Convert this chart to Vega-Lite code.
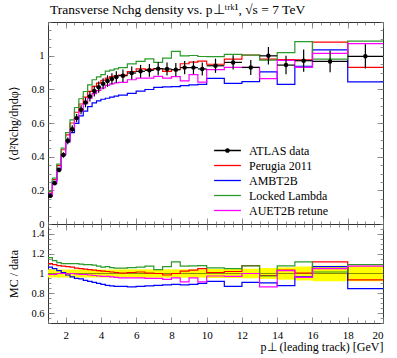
{
  "$schema": "https://vega.github.io/schema/vega-lite/v6.json",
  "padding": {"left": 7, "top": 2, "right": 5, "bottom": 2},
  "background": "white",
  "spacing": 0,
  "bounds": "flush",
  "config": {
    "font": "Liberation Serif",
    "view": {"stroke": "#333333", "strokeWidth": 1},
    "axis": {"domain": false, "grid": false, "tickColor": "#777777", "tickWidth": 0.8,
      "labelFont": "Liberation Serif", "labelFontSize": 10.5, "labelColor": "#000000",
      "titleFont": "Liberation Serif", "titleFontSize": 12, "titleFontWeight": "normal", "titleColor": "#000000"}
  },
  "resolve": {"scale": {"color": "independent"}},
  "datasets": {
    "bins": [
      {"lo":1,"hi":1.25,"pt":1.125,"y":0.167,"ylo":0.160,"yhi":0.174,"Perugia 2011":0.184,"AMBT2B":0.178,"Locked Lambda":0.194,"AUET2B retune":0.165},
      {"lo":1.25,"hi":1.5,"pt":1.375,"y":0.242,"ylo":0.232,"yhi":0.252,"Perugia 2011":0.264,"AMBT2B":0.254,"Locked Lambda":0.273,"AUET2B retune":0.240},
      {"lo":1.5,"hi":1.75,"pt":1.625,"y":0.321,"ylo":0.308,"yhi":0.334,"Perugia 2011":0.347,"AMBT2B":0.331,"Locked Lambda":0.356,"AUET2B retune":0.321},
      {"lo":1.75,"hi":2,"pt":1.875,"y":0.410,"ylo":0.394,"yhi":0.426,"Perugia 2011":0.441,"AMBT2B":0.414,"Locked Lambda":0.451,"AUET2B retune":0.410},
      {"lo":2,"hi":2.25,"pt":2.125,"y":0.494,"ylo":0.474,"yhi":0.514,"Perugia 2011":0.529,"AMBT2B":0.487,"Locked Lambda":0.543,"AUET2B retune":0.492},
      {"lo":2.25,"hi":2.5,"pt":2.375,"y":0.563,"ylo":0.540,"yhi":0.586,"Perugia 2011":0.600,"AMBT2B":0.543,"Locked Lambda":0.619,"AUET2B retune":0.563},
      {"lo":2.5,"hi":2.75,"pt":2.625,"y":0.629,"ylo":0.604,"yhi":0.654,"Perugia 2011":0.664,"AMBT2B":0.598,"Locked Lambda":0.692,"AUET2B retune":0.626},
      {"lo":2.75,"hi":3,"pt":2.875,"y":0.679,"ylo":0.652,"yhi":0.706,"Perugia 2011":0.713,"AMBT2B":0.642,"Locked Lambda":0.744,"AUET2B retune":0.672},
      {"lo":3,"hi":3.25,"pt":3.125,"y":0.722,"ylo":0.693,"yhi":0.751,"Perugia 2011":0.754,"AMBT2B":0.671,"Locked Lambda":0.787,"AUET2B retune":0.715},
      {"lo":3.25,"hi":3.5,"pt":3.375,"y":0.758,"ylo":0.728,"yhi":0.788,"Perugia 2011":0.788,"AMBT2B":0.697,"Locked Lambda":0.826,"AUET2B retune":0.747},
      {"lo":3.5,"hi":3.75,"pt":3.625,"y":0.790,"ylo":0.758,"yhi":0.822,"Perugia 2011":0.818,"AMBT2B":0.719,"Locked Lambda":0.857,"AUET2B retune":0.774},
      {"lo":3.75,"hi":4,"pt":3.875,"y":0.813,"ylo":0.780,"yhi":0.846,"Perugia 2011":0.837,"AMBT2B":0.732,"Locked Lambda":0.874,"AUET2B retune":0.793},
      {"lo":4,"hi":4.25,"pt":4.125,"y":0.833,"ylo":0.800,"yhi":0.866,"Perugia 2011":0.854,"AMBT2B":0.741,"Locked Lambda":0.887,"AUET2B retune":0.808},
      {"lo":4.25,"hi":4.5,"pt":4.375,"y":0.849,"ylo":0.815,"yhi":0.883,"Perugia 2011":0.866,"AMBT2B":0.747,"Locked Lambda":0.908,"AUET2B retune":0.824},
      {"lo":4.5,"hi":4.75,"pt":4.625,"y":0.862,"ylo":0.828,"yhi":0.896,"Perugia 2011":0.875,"AMBT2B":0.754,"Locked Lambda":0.914,"AUET2B retune":0.832},
      {"lo":4.75,"hi":5,"pt":4.875,"y":0.873,"ylo":0.838,"yhi":0.908,"Perugia 2011":0.882,"AMBT2B":0.760,"Locked Lambda":0.921,"AUET2B retune":0.838},
      {"lo":5,"hi":5.5,"pt":5.25,"y":0.881,"ylo":0.844,"yhi":0.918,"Perugia 2011":0.885,"AMBT2B":0.766,"Locked Lambda":0.929,"AUET2B retune":0.841},
      {"lo":5.5,"hi":6,"pt":5.75,"y":0.897,"ylo":0.859,"yhi":0.935,"Perugia 2011":0.906,"AMBT2B":0.776,"Locked Lambda":0.951,"AUET2B retune":0.857},
      {"lo":6,"hi":6.5,"pt":6.25,"y":0.907,"ylo":0.869,"yhi":0.945,"Perugia 2011":0.921,"AMBT2B":0.789,"Locked Lambda":0.966,"AUET2B retune":0.866},
      {"lo":6.5,"hi":7,"pt":6.75,"y":0.913,"ylo":0.875,"yhi":0.951,"Perugia 2011":0.918,"AMBT2B":0.799,"Locked Lambda":0.981,"AUET2B retune":0.867},
      {"lo":7,"hi":7.5,"pt":7.25,"y":0.923,"ylo":0.884,"yhi":0.962,"Perugia 2011":0.923,"AMBT2B":0.812,"Locked Lambda":0.960,"AUET2B retune":0.877},
      {"lo":7.5,"hi":8,"pt":7.75,"y":0.921,"ylo":0.882,"yhi":0.960,"Perugia 2011":0.907,"AMBT2B":0.815,"Locked Lambda":0.985,"AUET2B retune":0.866},
      {"lo":8,"hi":8.5,"pt":8.25,"y":0.917,"ylo":0.878,"yhi":0.956,"Perugia 2011":0.917,"AMBT2B":0.816,"Locked Lambda":1.025,"AUET2B retune":0.876},
      {"lo":8.5,"hi":9,"pt":8.75,"y":0.929,"ylo":0.890,"yhi":0.968,"Perugia 2011":0.952,"AMBT2B":0.822,"Locked Lambda":0.999,"AUET2B retune":0.850},
      {"lo":9,"hi":9.5,"pt":9.25,"y":0.929,"ylo":0.890,"yhi":0.968,"Perugia 2011":0.962,"AMBT2B":0.827,"Locked Lambda":1.001,"AUET2B retune":0.887},
      {"lo":9.5,"hi":10,"pt":9.75,"y":0.921,"ylo":0.882,"yhi":0.960,"Perugia 2011":0.967,"AMBT2B":0.829,"Locked Lambda":0.995,"AUET2B retune":0.843},
      {"lo":10,"hi":11,"pt":10.5,"y":0.940,"ylo":0.898,"yhi":0.982,"Perugia 2011":0.949,"AMBT2B":0.865,"Locked Lambda":0.994,"AUET2B retune":0.917},
      {"lo":11,"hi":12,"pt":11.5,"y":0.960,"ylo":0.918,"yhi":1.002,"Perugia 2011":0.979,"AMBT2B":0.835,"Locked Lambda":1.008,"AUET2B retune":0.931},
      {"lo":12,"hi":13,"pt":12.5,"y":0.930,"ylo":0.885,"yhi":0.975,"Perugia 2011":1.004,"AMBT2B":0.846,"Locked Lambda":1.003,"AUET2B retune":0.930},
      {"lo":13,"hi":14,"pt":13.5,"y":0.999,"ylo":0.947,"yhi":1.051,"Perugia 2011":0.979,"AMBT2B":0.904,"Locked Lambda":0.974,"AUET2B retune":0.864},
      {"lo":14,"hi":15,"pt":14.5,"y":0.944,"ylo":0.889,"yhi":0.999,"Perugia 2011":0.976,"AMBT2B":0.829,"Locked Lambda":1.018,"AUET2B retune":0.972},
      {"lo":15,"hi":16,"pt":15.5,"y":0.970,"ylo":0.904,"yhi":1.036,"Perugia 2011":0.975,"AMBT2B":0.937,"Locked Lambda":1.084,"AUET2B retune":0.931},
      {"lo":16,"hi":18,"pt":17,"y":0.966,"ylo":0.901,"yhi":1.031,"Perugia 2011":1.080,"AMBT2B":1.034,"Locked Lambda":0.980,"AUET2B retune":1.014},
      {"lo":18,"hi":20,"pt":19,"y":0.996,"ylo":0.924,"yhi":1.068,"Perugia 2011":0.931,"AMBT2B":0.844,"Locked Lambda":1.086,"AUET2B retune":1.071}
    ],
    "ratio": [
      {"lo":1,"hi":1.25,"rlo":0.96,"rhi":1.04,"Perugia 2011":1.10,"AMBT2B":1.065,"Locked Lambda":1.16,"AUET2B retune":0.99},
      {"lo":1.25,"hi":1.5,"rlo":0.96,"rhi":1.04,"Perugia 2011":1.09,"AMBT2B":1.05,"Locked Lambda":1.13,"AUET2B retune":0.99},
      {"lo":1.5,"hi":1.75,"rlo":0.96,"rhi":1.04,"Perugia 2011":1.08,"AMBT2B":1.03,"Locked Lambda":1.11,"AUET2B retune":1.0},
      {"lo":1.75,"hi":2,"rlo":0.96,"rhi":1.04,"Perugia 2011":1.075,"AMBT2B":1.01,"Locked Lambda":1.10,"AUET2B retune":1.0},
      {"lo":2,"hi":2.25,"rlo":0.96,"rhi":1.04,"Perugia 2011":1.07,"AMBT2B":0.985,"Locked Lambda":1.10,"AUET2B retune":0.995},
      {"lo":2.25,"hi":2.5,"rlo":0.96,"rhi":1.04,"Perugia 2011":1.065,"AMBT2B":0.965,"Locked Lambda":1.10,"AUET2B retune":1.0},
      {"lo":2.5,"hi":2.75,"rlo":0.96,"rhi":1.04,"Perugia 2011":1.055,"AMBT2B":0.95,"Locked Lambda":1.10,"AUET2B retune":0.995},
      {"lo":2.75,"hi":3,"rlo":0.96,"rhi":1.04,"Perugia 2011":1.05,"AMBT2B":0.945,"Locked Lambda":1.095,"AUET2B retune":0.99},
      {"lo":3,"hi":3.25,"rlo":0.96,"rhi":1.04,"Perugia 2011":1.045,"AMBT2B":0.93,"Locked Lambda":1.09,"AUET2B retune":0.99},
      {"lo":3.25,"hi":3.5,"rlo":0.96,"rhi":1.04,"Perugia 2011":1.04,"AMBT2B":0.92,"Locked Lambda":1.09,"AUET2B retune":0.985},
      {"lo":3.5,"hi":3.75,"rlo":0.96,"rhi":1.04,"Perugia 2011":1.035,"AMBT2B":0.91,"Locked Lambda":1.085,"AUET2B retune":0.98},
      {"lo":3.75,"hi":4,"rlo":0.96,"rhi":1.04,"Perugia 2011":1.03,"AMBT2B":0.90,"Locked Lambda":1.075,"AUET2B retune":0.975},
      {"lo":4,"hi":4.25,"rlo":0.96,"rhi":1.04,"Perugia 2011":1.025,"AMBT2B":0.89,"Locked Lambda":1.065,"AUET2B retune":0.97},
      {"lo":4.25,"hi":4.5,"rlo":0.96,"rhi":1.04,"Perugia 2011":1.02,"AMBT2B":0.88,"Locked Lambda":1.07,"AUET2B retune":0.97},
      {"lo":4.5,"hi":4.75,"rlo":0.96,"rhi":1.04,"Perugia 2011":1.015,"AMBT2B":0.875,"Locked Lambda":1.06,"AUET2B retune":0.965},
      {"lo":4.75,"hi":5,"rlo":0.96,"rhi":1.04,"Perugia 2011":1.01,"AMBT2B":0.87,"Locked Lambda":1.055,"AUET2B retune":0.96},
      {"lo":5,"hi":5.5,"rlo":0.958,"rhi":1.042,"Perugia 2011":1.005,"AMBT2B":0.87,"Locked Lambda":1.055,"AUET2B retune":0.955},
      {"lo":5.5,"hi":6,"rlo":0.958,"rhi":1.042,"Perugia 2011":1.01,"AMBT2B":0.865,"Locked Lambda":1.06,"AUET2B retune":0.955},
      {"lo":6,"hi":6.5,"rlo":0.958,"rhi":1.042,"Perugia 2011":1.015,"AMBT2B":0.87,"Locked Lambda":1.065,"AUET2B retune":0.955},
      {"lo":6.5,"hi":7,"rlo":0.958,"rhi":1.042,"Perugia 2011":1.005,"AMBT2B":0.875,"Locked Lambda":1.075,"AUET2B retune":0.95},
      {"lo":7,"hi":7.5,"rlo":0.958,"rhi":1.042,"Perugia 2011":1.0,"AMBT2B":0.88,"Locked Lambda":1.04,"AUET2B retune":0.95},
      {"lo":7.5,"hi":8,"rlo":0.958,"rhi":1.042,"Perugia 2011":0.985,"AMBT2B":0.885,"Locked Lambda":1.07,"AUET2B retune":0.94},
      {"lo":8,"hi":8.5,"rlo":0.958,"rhi":1.042,"Perugia 2011":1.0,"AMBT2B":0.89,"Locked Lambda":1.118,"AUET2B retune":0.955},
      {"lo":8.5,"hi":9,"rlo":0.958,"rhi":1.042,"Perugia 2011":1.025,"AMBT2B":0.885,"Locked Lambda":1.075,"AUET2B retune":0.915},
      {"lo":9,"hi":9.5,"rlo":0.958,"rhi":1.042,"Perugia 2011":1.035,"AMBT2B":0.89,"Locked Lambda":1.078,"AUET2B retune":0.955},
      {"lo":9.5,"hi":10,"rlo":0.958,"rhi":1.042,"Perugia 2011":1.05,"AMBT2B":0.90,"Locked Lambda":1.08,"AUET2B retune":0.915},
      {"lo":10,"hi":11,"rlo":0.955,"rhi":1.045,"Perugia 2011":1.01,"AMBT2B":0.92,"Locked Lambda":1.057,"AUET2B retune":0.975},
      {"lo":11,"hi":12,"rlo":0.955,"rhi":1.045,"Perugia 2011":1.02,"AMBT2B":0.87,"Locked Lambda":1.05,"AUET2B retune":0.97},
      {"lo":12,"hi":13,"rlo":0.952,"rhi":1.048,"Perugia 2011":1.08,"AMBT2B":0.91,"Locked Lambda":1.078,"AUET2B retune":1.0},
      {"lo":13,"hi":14,"rlo":0.945,"rhi":1.055,"Perugia 2011":0.98,"AMBT2B":0.905,"Locked Lambda":0.975,"AUET2B retune":0.865},
      {"lo":14,"hi":15,"rlo":0.938,"rhi":1.062,"Perugia 2011":1.034,"AMBT2B":0.878,"Locked Lambda":1.078,"AUET2B retune":1.03},
      {"lo":15,"hi":16,"rlo":0.93,"rhi":1.07,"Perugia 2011":1.005,"AMBT2B":0.966,"Locked Lambda":1.118,"AUET2B retune":0.96},
      {"lo":16,"hi":18,"rlo":0.922,"rhi":1.078,"Perugia 2011":1.118,"AMBT2B":1.07,"Locked Lambda":1.015,"AUET2B retune":1.05},
      {"lo":18,"hi":20,"rlo":0.922,"rhi":1.078,"Perugia 2011":0.935,"AMBT2B":0.847,"Locked Lambda":1.09,"AUET2B retune":1.075}
    ]
  },
  "vconcat": [
    {
      "width": 335,
      "height": 202,
      "title": {"text": "Transverse Nchg density vs. p⊥ᵗʳᵏ¹, √s = 7 TeV", "anchor": "start", "frame": "group", "fontSize": 13.5, "fontWeight": "normal", "font": "Liberation Serif", "offset": 5, "dx": 2, "color": "#000000"},
      "data": {"name": "bins"},
      "resolve": {"axis": {"x": "independent", "y": "independent"}},
      "layer": [
        {
          "transform": [
            {"fold": ["Perugia 2011", "AMBT2B", "Locked Lambda", "AUET2B retune"], "as": ["series", "val"]},
            {"fold": ["lo", "hi"], "as": ["edge", "ex"]}
          ],
          "mark": {"type": "line", "strokeWidth": 1.2, "interpolate": "linear"},
          "encoding": {
            "x": {"field": "ex", "type": "quantitative", "scale": {"domain": [1, 20], "nice": false, "zero": false},
              "axis": {"orient": "bottom", "values": [2,4,6,8,10,12,14,16,18,20], "labels": false, "tickSize": -6, "title": null}},
            "y": {"field": "val", "type": "quantitative", "scale": {"domain": [0, 1.2], "nice": false, "zero": false},
              "axis": {"orient": "left", "values": [0,0.2,0.4,0.6,0.8,1], "format": "~g", "tickSize": -6, "labelPadding": 10, "title": "⟨d²Nchg/dηdφ⟩", "titlePadding": 10}},
            "color": {"field": "series", "type": "nominal",
              "scale": {"domain": ["ATLAS data", "Perugia 2011", "AMBT2B", "Locked Lambda", "AUET2B retune"], "range": ["#000000", "#ff0000", "#0000ff", "#2a9a2a", "#ff00ff"]},
              "legend": {"title": null, "orient": "none", "legendX": 172, "legendY": 121, "symbolType": "M-2,0H2", "symbolSize": 180, "symbolStrokeWidth": 1.3,
                "labelFont": "Liberation Serif", "labelFontSize": 12, "labelOffset": 14, "rowPadding": 1, "padding": 0,
                "encode": {"symbols": {"update": {
                  "shape": {"signal": "datum.value === 'ATLAS data' ? 'M-2,0H2M-0.25,0A0.25,0.25,0,1,1,0.25,0A0.25,0.25,0,1,1,-0.25,0' : 'M-2,0H2'"},
                  "fill": {"signal": "datum.value === 'ATLAS data' ? '#000000' : 'transparent'"}}}}}},
            "order": [{"field": "ex", "type": "quantitative"}, {"field": "edge", "sort": "ascending"}]
          }
        },
        {
          "mark": {"type": "rule", "color": "#000000", "strokeWidth": 1.2},
          "encoding": {
            "x": {"field": "lo", "type": "quantitative", "scale": {"domain": [1, 20], "nice": false, "zero": false},
              "axis": {"orient": "top", "values": [2,4,6,8,10,12,14,16,18,20], "labels": false, "tickSize": -6, "title": null}},
            "x2": {"field": "hi"},
            "y": {"field": "y", "type": "quantitative", "scale": {"domain": [0, 1.2], "nice": false, "zero": false},
              "axis": {"orient": "right", "values": [0,0.2,0.4,0.6,0.8,1], "labels": false, "tickSize": -6, "title": null}}
          }
        },
        {
          "mark": {"type": "rule", "color": "#000000", "strokeWidth": 1.2},
          "encoding": {
            "x": {"field": "pt", "type": "quantitative", "scale": {"domain": [1, 20], "nice": false, "zero": false},
              "axis": {"orient": "bottom", "values": [1,1.5,2,2.5,3,3.5,4,4.5,5,5.5,6,6.5,7,7.5,8,8.5,9,9.5,10,10.5,11,11.5,12,12.5,13,13.5,14,14.5,15,15.5,16,16.5,17,17.5,18,18.5,19,19.5,20], "labels": false, "tickSize": -3, "title": null}},
            "y": {"field": "ylo", "type": "quantitative", "scale": {"domain": [0, 1.2], "nice": false, "zero": false},
              "axis": {"orient": "left", "values": [0,0.05,0.1,0.15,0.2,0.25,0.3,0.35,0.4,0.45,0.5,0.55,0.6,0.65,0.7,0.75,0.8,0.85,0.9,0.95,1,1.05,1.1,1.15,1.2], "labels": false, "tickSize": -3, "title": null}},
            "y2": {"field": "yhi"}
          }
        },
        {
          "mark": {"type": "point", "filled": true, "color": "#000000", "size": 20, "opacity": 1},
          "encoding": {
            "x": {"field": "pt", "type": "quantitative", "scale": {"domain": [1, 20], "nice": false, "zero": false},
              "axis": {"orient": "top", "values": [1,1.5,2,2.5,3,3.5,4,4.5,5,5.5,6,6.5,7,7.5,8,8.5,9,9.5,10,10.5,11,11.5,12,12.5,13,13.5,14,14.5,15,15.5,16,16.5,17,17.5,18,18.5,19,19.5,20], "labels": false, "tickSize": -3, "title": null}},
            "y": {"field": "y", "type": "quantitative", "scale": {"domain": [0, 1.2], "nice": false, "zero": false},
              "axis": {"orient": "right", "values": [0,0.05,0.1,0.15,0.2,0.25,0.3,0.35,0.4,0.45,0.5,0.55,0.6,0.65,0.7,0.75,0.8,0.85,0.9,0.95,1,1.05,1.1,1.15,1.2], "labels": false, "tickSize": -3, "title": null}}
          }
        }
      ]
    },
    {
      "width": 335,
      "height": 99,
      "data": {"name": "ratio"},
      "resolve": {"axis": {"x": "independent", "y": "independent"}},
      "layer": [
        {
          "mark": {"type": "rect", "color": "#ffff00"},
          "encoding": {
            "x": {"field": "lo", "type": "quantitative", "scale": {"domain": [1, 20], "nice": false, "zero": false},
              "axis": {"orient": "bottom", "values": [2,4,6,8,10,12,14,16,18,20], "tickSize": -6, "labelPadding": 12, "labelFontSize": 11, "title": "p⊥ (leading track) [GeV]", "titleAnchor": "end", "titlePadding": 1}},
            "x2": {"field": "hi"},
            "y": {"field": "rlo", "type": "quantitative", "scale": {"domain": [0.5, 1.5], "nice": false, "zero": false},
              "axis": {"orient": "left", "values": [0.6,0.8,1,1.2,1.4], "format": "~g", "tickSize": -6, "labelPadding": 10, "title": "MC / data", "titlePadding": 10}},
            "y2": {"field": "rhi"}
          }
        },
        {
          "mark": {"type": "rule", "color": "#000000", "opacity": 0.45, "strokeWidth": 1},
          "encoding": {
            "x": {"field": "lo", "type": "quantitative", "scale": {"domain": [1, 20], "nice": false, "zero": false},
              "axis": {"orient": "top", "values": [2,4,6,8,10,12,14,16,18,20], "labels": false, "tickSize": -6, "title": null}},
            "x2": {"field": "hi"},
            "y": {"datum": 1, "type": "quantitative", "scale": {"domain": [0.5, 1.5], "nice": false, "zero": false},
              "axis": {"orient": "right", "values": [0.6,0.8,1,1.2,1.4], "labels": false, "tickSize": -6, "title": null}}
          }
        },
        {
          "transform": [
            {"fold": ["Perugia 2011", "AMBT2B", "Locked Lambda", "AUET2B retune"], "as": ["series", "val"]},
            {"fold": ["lo", "hi"], "as": ["edge", "ex"]}
          ],
          "mark": {"type": "line", "strokeWidth": 1.2, "interpolate": "linear"},
          "encoding": {
            "x": {"field": "ex", "type": "quantitative", "scale": {"domain": [1, 20], "nice": false, "zero": false},
              "axis": {"orient": "bottom", "values": [1,1.5,2,2.5,3,3.5,4,4.5,5,5.5,6,6.5,7,7.5,8,8.5,9,9.5,10,10.5,11,11.5,12,12.5,13,13.5,14,14.5,15,15.5,16,16.5,17,17.5,18,18.5,19,19.5,20], "labels": false, "tickSize": -3, "title": null}},
            "y": {"field": "val", "type": "quantitative", "scale": {"domain": [0.5, 1.5], "nice": false, "zero": false},
              "axis": {"orient": "left", "values": [0.5,0.55,0.6,0.65,0.7,0.75,0.8,0.85,0.9,0.95,1,1.05,1.1,1.15,1.2,1.25,1.3,1.35,1.4,1.45,1.5], "labels": false, "tickSize": -3, "title": null}},
            "color": {"field": "series", "type": "nominal",
              "scale": {"domain": ["ATLAS data", "Perugia 2011", "AMBT2B", "Locked Lambda", "AUET2B retune"], "range": ["#000000", "#ff0000", "#0000ff", "#2a9a2a", "#ff00ff"]},
              "legend": null},
            "order": [{"field": "ex", "type": "quantitative"}, {"field": "edge", "sort": "ascending"}]
          }
        },
        {
          "mark": {"type": "rule", "opacity": 0},
          "encoding": {
            "x": {"field": "lo", "type": "quantitative", "scale": {"domain": [1, 20], "nice": false, "zero": false},
              "axis": {"orient": "top", "values": [1,1.5,2,2.5,3,3.5,4,4.5,5,5.5,6,6.5,7,7.5,8,8.5,9,9.5,10,10.5,11,11.5,12,12.5,13,13.5,14,14.5,15,15.5,16,16.5,17,17.5,18,18.5,19,19.5,20], "labels": false, "tickSize": -3, "title": null}},
            "x2": {"field": "hi"},
            "y": {"field": "rhi", "type": "quantitative", "scale": {"domain": [0.5, 1.5], "nice": false, "zero": false},
              "axis": {"orient": "right", "values": [0.5,0.55,0.6,0.65,0.7,0.75,0.8,0.85,0.9,0.95,1,1.05,1.1,1.15,1.2,1.25,1.3,1.35,1.4,1.45,1.5], "labels": false, "tickSize": -3, "title": null}}
          }
        }
      ]
    }
  ]
}
